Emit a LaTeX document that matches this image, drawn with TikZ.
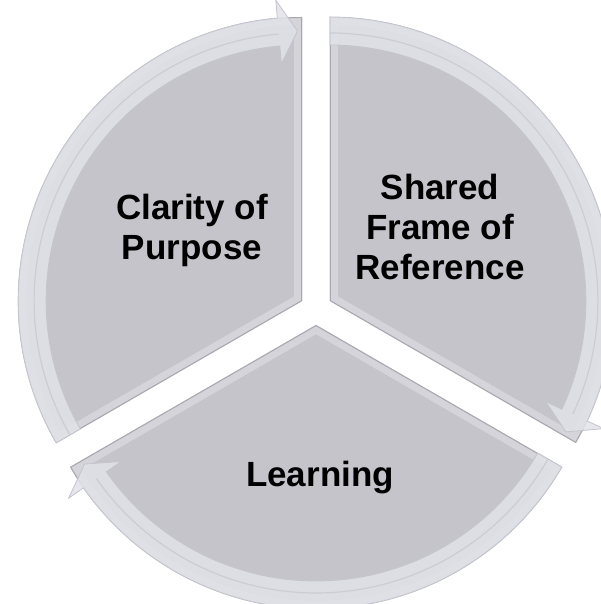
\documentclass[tikz,border=0pt]{standalone}
\usepackage{fontspec}
\setmainfont{Liberation Sans}
\definecolor{segfill}{RGB}{197,196,202}
\definecolor{segbevel}{RGB}{212,212,218}
\definecolor{segedge}{RGB}{168,168,176}
\definecolor{bandcol}{RGB}{226,226,233}
\definecolor{bandedge}{RGB}{196,196,206}
\definecolor{bandline}{RGB}{204,204,213}
\newcommand\mysegment[3]{%
  \begin{scope}[shift={#1}]
    \begin{scope}
      \clip (0,0) -- (#2:284) arc[start angle=#2, end angle=#3, radius=284] -- cycle;
      \fill[segfill] (-320,-320) rectangle (320,320);
      \draw[segbevel, line width=16] (0,0) -- (#2:284) arc[start angle=#2, end angle=#3, radius=284] -- cycle;
      \draw[segedge, line width=2] (0,0) -- (#2:284) arc[start angle=#2, end angle=#3, radius=284] -- cycle;
    \end{scope}
    \pgfmathsetmacro\wingang{#3+5}
    \pgfmathsetmacro\tipang{#3+1}
    \filldraw[bandstyle] (#2:284) arc[start angle=#2, end angle=\wingang, radius=284]
      -- (\wingang:302) -- (\tipang:270) -- (\wingang:238) -- (\wingang:256)
      arc[start angle=\wingang, end angle=#2, radius=256] -- cycle;
    \draw[bandline, line width=1.2] (#2:268) arc[start angle=#2, end angle=\wingang, radius=268];
  \end{scope}}
\begin{document}
\begin{tikzpicture}[x=1pt,y=1pt,
  bandstyle/.style={fill=bandcol, fill opacity=0.85, draw=bandedge, line width=0.8, line join=miter},
  lbl/.style={font=\fontsize{35}{40}\selectfont\bfseries, align=center, inner sep=0pt, text=black}]
\useasboundingbox (0,0) rectangle (601,604);
\clip (0,0) rectangle (601,604);
\fill[white] (0,0) rectangle (601,604);
% Clarity of Purpose segment (left)
\mysegment{(302.1,303)}{210}{90}
% Shared Frame of Reference segment (right)
\mysegment{(329.9,303)}{90}{-30}
% Learning segment (bottom)
\mysegment{(316,279)}{-30}{-150}
\node[lbl] (clarity) at (192,374) {Clarity of\\Purpose};
\node[lbl] (shared) at (440,377) {Shared\\Frame of\\Reference};
\node[lbl] (learning) at (320,126) {Learning};
\end{tikzpicture}
\end{document}
